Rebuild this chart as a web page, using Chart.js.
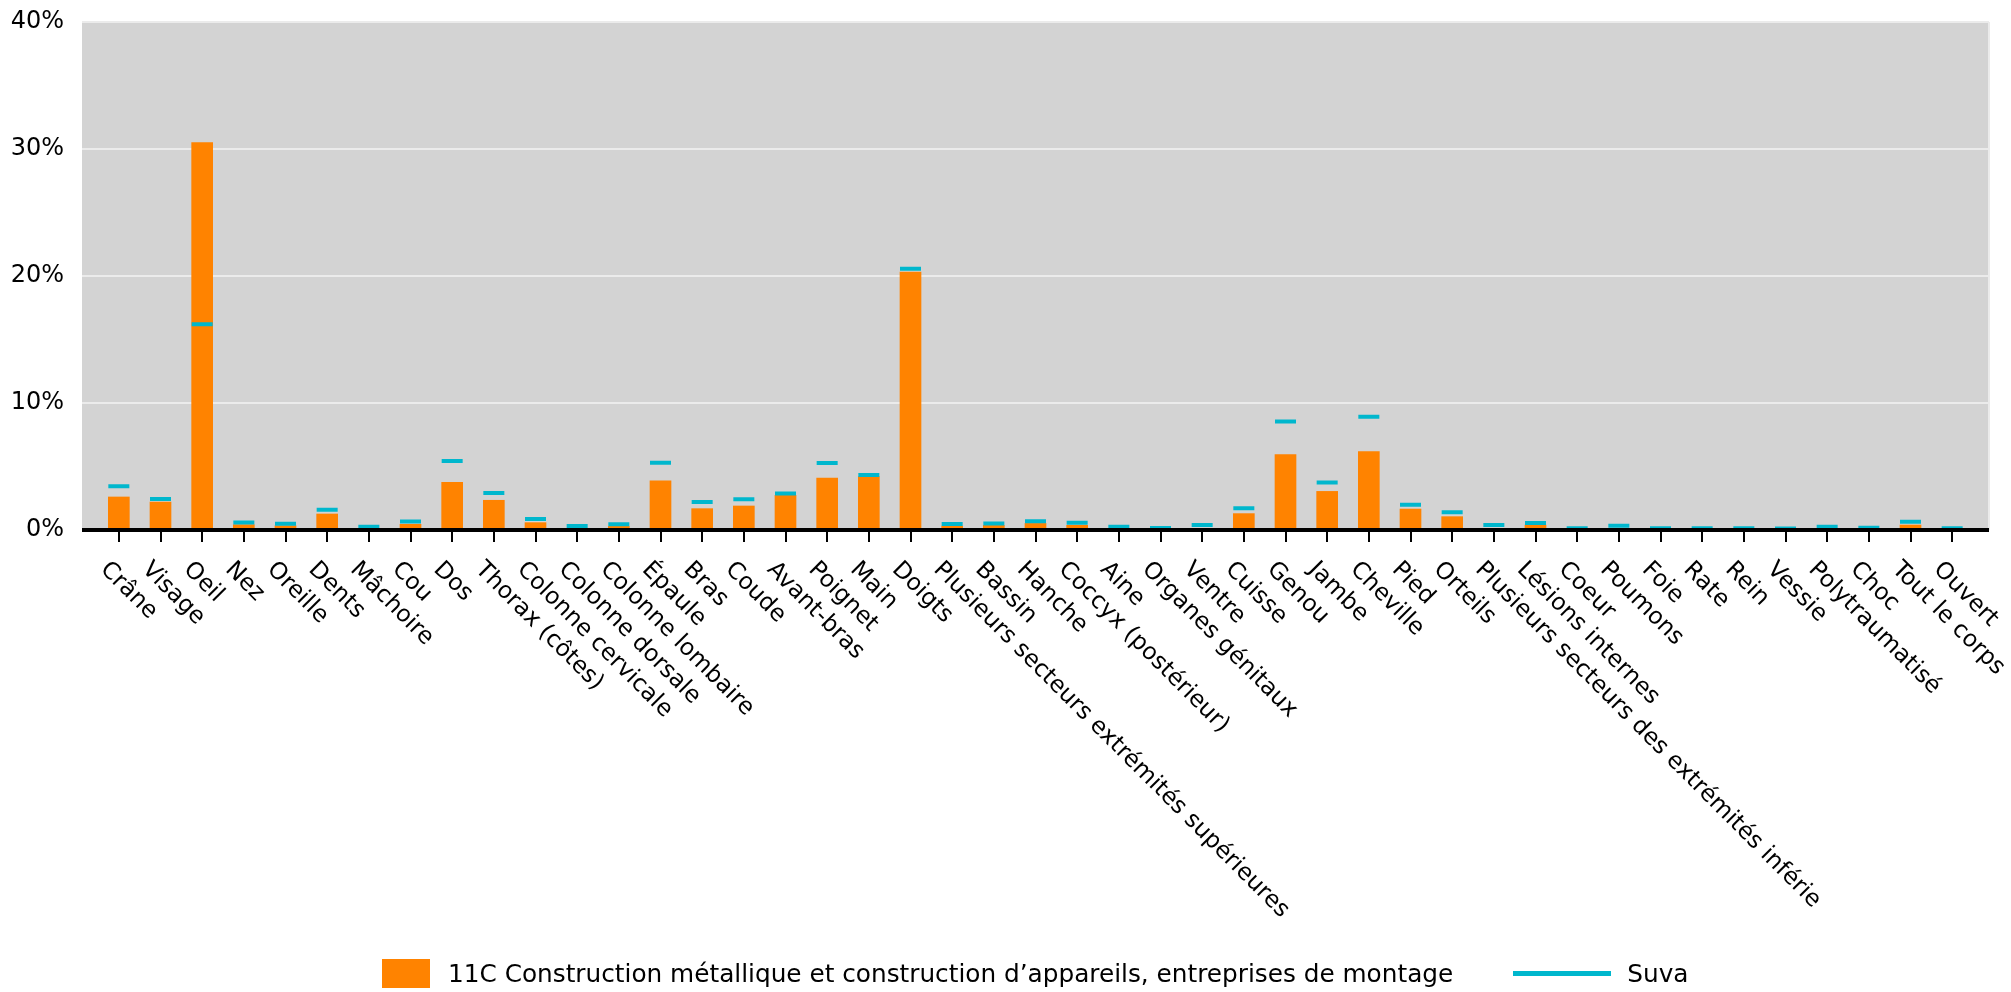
<!DOCTYPE html>
<html>
<head>
<meta charset="utf-8">
<script src="https://cdn.jsdelivr.net/npm/chart.js@4"></script>
<style>
  html,body{margin:0;padding:0;background:#fff;}
  #wrap{position:relative;width:2011px;height:992px;}
  #legend{position:absolute;left:382px;top:959px;height:29px;display:flex;align-items:center;font:24.75px "DejaVu Sans",Verdana,sans-serif;color:#000;}
  #legend .item{display:flex;align-items:center;}
  #legend .box{width:48px;height:29px;margin-right:18px;}
  #legend .line{width:98px;height:5px;margin-right:16px;}
</style>
</head>
<body>
<div id="wrap">
  <canvas id="c" width="2011" height="992"></canvas>
  <div id="legend"></div>
</div>
<script>
const labels = ['Crâne','Visage','Oeil','Nez','Oreille','Dents','Mâchoire','Cou','Dos','Thorax (côtes)',
  'Colonne cervicale','Colonne dorsale','Colonne lombaire','Épaule','Bras','Coude','Avant-bras','Poignet','Main','Doigts',
  'Plusieurs secteurs extrémités supérieures','Bassin','Hanche','Coccyx (postérieur)','Aine','Organes génitaux','Ventre','Cuisse','Genou','Jambe',
  'Cheville','Pied','Orteils','Plusieurs secteurs des extrémités inférie','Lésions internes','Coeur','Poumons','Foie','Rate','Rein',
  'Vessie','Polytraumatisé','Choc','Tout le corps','Ouvert'];
const branche = [2.6,2.2,30.5,0.42,0.34,1.26,0,0.45,3.75,2.34,
  0.58,0.03,0.29,3.88,1.68,1.89,2.73,4.09,4.2,20.3,
  0.31,0.37,0.52,0.37,0,0,0.06,1.29,5.93,3.04,
  6.17,1.65,1.05,0.05,0.39,0,0.03,0,0,0,
  0,0,0,0.39,0];
const suva = [3.45,2.44,16.2,0.59,0.49,1.6,0.25,0.67,5.43,2.91,
  0.87,0.31,0.45,5.3,2.2,2.42,2.87,5.28,4.33,20.58,
  0.47,0.52,0.68,0.58,0.25,0.16,0.39,1.71,8.55,3.74,
  8.91,1.99,1.4,0.39,0.55,0.14,0.33,0.13,0.13,0.13,
  0.12,0.26,0.18,0.64,0.13];
const yTicks = [0,10,20,30,40];
const brancheName = '11C Construction métallique et construction d’appareils, entreprises de montage';
const suvaName = 'Suva';

const ORANGE = '#ff8300', CYAN = '#00b7cd', GREY = '#d3d3d3';
const FONT = '"DejaVu Sans", Verdana, sans-serif';
const EXTRA = 16; // grey area sticks out past the category bands

// grey panel, gridlines, axis line, ticks and slanted labels
const frame = {
  id:'frame',
  beforeDatasetsDraw(chart){
    const {ctx, chartArea:a, scales:{y}} = chart;
    ctx.save();
    ctx.fillStyle = GREY;
    ctx.fillRect(a.left-EXTRA, a.top, a.right-a.left+2*EXTRA, a.bottom-a.top);
    ctx.strokeStyle = '#ebebeb'; ctx.lineWidth = 2;
    yTicks.filter(v=>v>0).forEach(v=>{
      const py = Math.round(y.getPixelForValue(v));
      ctx.beginPath(); ctx.moveTo(a.left-EXTRA, py); ctx.lineTo(a.right+EXTRA, py); ctx.stroke();
    });
    ctx.beginPath(); ctx.moveTo(a.right+EXTRA, a.top); ctx.lineTo(a.right+EXTRA, a.bottom); ctx.stroke();
    ctx.restore();
  },
  afterDatasetsDraw(chart){
    const {ctx, chartArea:a, scales:{x,y}} = chart;
    const y0 = y.getPixelForValue(0);
    ctx.save();
    ctx.strokeStyle = '#000';
    ctx.lineWidth = 4;
    ctx.beginPath(); ctx.moveTo(a.left-EXTRA, y0); ctx.lineTo(a.right+EXTRA, y0); ctx.stroke();
    ctx.lineWidth = 2;
    labels.forEach((l,i)=>{
      const px = Math.round(x.getPixelForValue(i));
      ctx.beginPath(); ctx.moveTo(px, y0); ctx.lineTo(px, y0+12); ctx.stroke();
    });
    ctx.fillStyle = '#000';
    ctx.font = '23.5px ' + FONT;
    ctx.textAlign = 'left'; ctx.textBaseline = 'middle';
    labels.forEach((l,i)=>{
      const px = x.getPixelForValue(i);
      ctx.save();
      ctx.translate(px-15, y0+36);
      ctx.rotate(Math.PI/4);
      ctx.fillText(l, 0, 0);
      ctx.restore();
    });
    ctx.restore();
  }
};

const chart = new Chart(document.getElementById('c'), {
  data:{
    labels,
    datasets:[
      {type:'bar', label:brancheName, data:branche, backgroundColor:ORANGE, barThickness:21, order:1},
      {type:'line', label:suvaName, data:suva, borderColor:CYAN, backgroundColor:CYAN, showLine:false,
       pointStyle:'line', pointRadius:10.5, pointHoverRadius:10.5, pointBorderWidth:4, order:0}
    ]
  },
  options:{
    responsive:false, animation:false,
    layout:{padding:{top:22, right:38, left:0, bottom:0}},
    plugins:{legend:{display:false}, tooltip:{enabled:false}},
    scales:{
      x:{offset:true, grid:{display:false}, border:{display:false}, ticks:{display:false},
         afterFit(s){ s.height = 462; }},
      y:{min:0, max:40, grid:{display:false}, border:{display:false},
         afterFit(s){ s.width = 98; s.paddingTop = 0; s.paddingBottom = 0; },
         ticks:{stepSize:10, padding:26, color:'#000', font:{size:24, family:FONT}, callback:v=>v+'%'}}
    }
  },
  plugins:[frame]
});

// legend built from the datasets
const leg = document.getElementById('legend');
chart.data.datasets.forEach((d,i)=>{
  const it = document.createElement('div');
  it.className = 'item';
  if(i>0) it.style.marginLeft = '60px';
  const sw = document.createElement('span');
  sw.className = d.type==='bar' ? 'box' : 'line';
  sw.style.background = d.type==='bar' ? d.backgroundColor : d.borderColor;
  const tx = document.createElement('span');
  tx.textContent = d.label;
  it.append(sw, tx);
  leg.appendChild(it);
});
</script>
</body>
</html>
